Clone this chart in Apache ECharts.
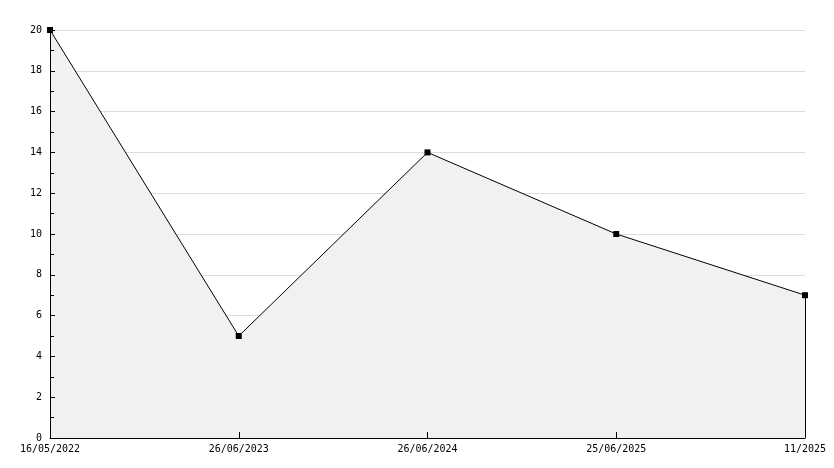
<!DOCTYPE html>
<html><head><meta charset="utf-8">
<script src="https://cdn.jsdelivr.net/npm/echarts@6/dist/echarts.min.js"></script>
<style>html,body{margin:0;padding:0;background:#fff}#c{width:834px;height:468px}</style>
</head><body><div id="c"></div>
<script>
const categories = ["16/05/2022", "26/06/2023", "26/06/2024", "25/06/2025", "11/2025"];
const values = [20, 5, 14, 10, 7];
const yMin = 0, yMax = 20, yStep = 2;
const font = "DejaVu Sans Mono";
const chart = echarts.init(document.getElementById('c'));
const last = categories.length - 1;
chart.setOption({
  animation: false,
  backgroundColor: '#fff',
  grid: {left: 50, right: 29, top: 30, bottom: 30, containLabel: false},
  xAxis: {
    type: 'category', data: categories, boundaryGap: false, z: 5,
    axisLine: {lineStyle: {color: '#000', width: 1}},
    axisTick: {inside: true, length: 6, lineStyle: {color: '#000'}},
    axisLabel: {color: '#000', fontFamily: font, fontSize: 10, margin: 6, showMinLabel: true, showMaxLabel: true, interval: 0},
    splitLine: {show: false}
  },
  yAxis: [{
    type: 'value', min: yMin, max: yMax, interval: yStep, position: 'left', z: 0,
    axisLine: {show: false}, axisTick: {show: false}, axisLabel: {show: false},
    splitLine: {show: true, lineStyle: {color: '#dcdcdc', width: 1}}
  }, {
    type: 'value', min: yMin, max: yMax, interval: yStep, position: 'left', offset: 0, z: 5,
    axisLine: {show: true, lineStyle: {color: '#000', width: 1}},
    axisTick: {show: true, inside: true, length: 5, lineStyle: {color: '#000'}},
    minorTick: {show: true, splitNumber: 2, length: 4, lineStyle: {color: '#000'}},
    axisLabel: {color: '#000', fontFamily: font, fontSize: 10, margin: 8},
    splitLine: {show: false}
  }],
  series: [{
    type: 'line', data: values, yAxisIndex: 0,
    symbol: 'rect', symbolSize: 6,
    itemStyle: {color: '#000'},
    lineStyle: {color: '#000', width: 1},
    areaStyle: {color: '#f1f1f1', opacity: 1},
    markLine: {
      silent: true, symbol: 'none', label: {show: false},
      lineStyle: {color: '#000', width: 1, type: 'solid'},
      data: [[{coord: [last, values[last]]}, {coord: [last, yMin]}]]
    }
  }]
});
</script></body></html>
